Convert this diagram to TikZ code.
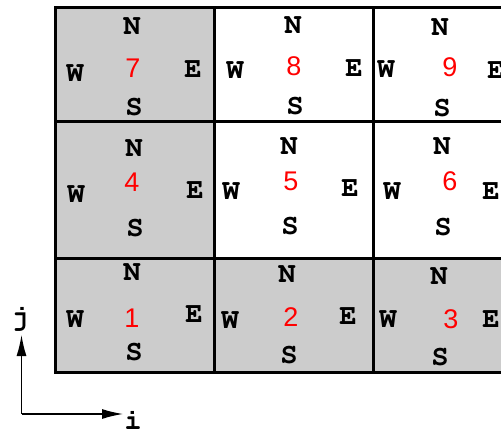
\documentclass[tikz,border=0pt]{standalone}
\usepackage{fontspec}
\newfontfamily\numfont{Liberation Sans}
\newcommand\courb{\fontencoding{T1}\fontfamily{pcr}\fontseries{b}\fontshape{n}\selectfont}
\usetikzlibrary{arrows.meta}
\definecolor{cellgray}{HTML}{CCCCCC}
\definecolor{numred}{HTML}{FF0000}
\tikzset{
  cellbox/.style={inner sep=0pt, outer sep=0pt, minimum width=159pt},
  shaded/.style={fill=cellgray},
  plain/.style={fill=white},
  gridline/.style={line width=3pt, line join=miter},
  lbl/.style={inner sep=0pt, font=\fontsize{29}{29}\courb},
  num/.style={inner sep=0pt, text=numred, font=\fontsize{27}{27}\selectfont\numfont},
  axis/.style={line width=1.3pt, -{Latex[length=21pt,width=10pt]}}
}
\begin{document}
\begin{tikzpicture}[x=1pt,y=-1pt]
\useasboundingbox (0,0) rectangle (501,433);
\clip (0,0) rectangle (501,433);
% cells
\node[cellbox, shaded, minimum height=114pt] (c7) at (134.5,65) {};
\node[cellbox, plain,  minimum height=114pt] (c8) at (293.5,65) {};
\node[cellbox, plain,  minimum height=114pt] (c9) at (452.5,65) {};
\node[cellbox, shaded, minimum height=136pt] (c4) at (134.5,190) {};
\node[cellbox, plain,  minimum height=136pt] (c5) at (293.5,190) {};
\node[cellbox, plain,  minimum height=136pt] (c6) at (452.5,190) {};
\node[cellbox, shaded, minimum height=114pt] (c1) at (134.5,315) {};
\node[cellbox, shaded, minimum height=114pt] (c2) at (293.5,315) {};
\node[cellbox, shaded, minimum height=114pt] (c3) at (452.5,315) {};
\foreach \c in {c7,c8,c9,c4,c5,c6,c1,c2,c3}
  \draw[gridline] (\c.north west) rectangle (\c.south east);
% cell 7
\node[lbl] (n7) at (132,27) {N};
\node[lbl] (w7) at (75,73) {W};
\node[num] (k7) at (133,68) {7};
\node[lbl] (e7) at (193,69) {E};
\node[lbl] (s7) at (134,107) {S};
% cell 8
\node[lbl] (n8) at (293,26) {N};
\node[lbl] (w8) at (235,70) {W};
\node[num] (k8) at (294,66) {8};
\node[lbl] (e8) at (354,68) {E};
\node[lbl] (s8) at (295,106) {S};
% cell 9
\node[lbl] (n9) at (440,28) {N};
\node[lbl] (w9) at (386,69) {W};
\node[num] (k9) at (450,67) {9};
\node[lbl] (e9) at (496,70) {E};
\node[lbl] (s9) at (442,108) {S};
% cell 4
\node[lbl] (n4) at (134,149) {N};
\node[lbl] (w4) at (76,194) {W};
\node[num] (k4) at (132,182) {4};
\node[lbl] (e4) at (195,190) {E};
\node[lbl] (s4) at (135,228) {S};
% cell 5
\node[lbl] (n5) at (289,147) {N};
\node[lbl] (w5) at (231,191) {W};
\node[num] (k5) at (291,181) {5};
\node[lbl] (e5) at (350,188) {E};
\node[lbl] (s5) at (290,226) {S};
% cell 6
\node[lbl] (n6) at (442,147) {N};
\node[lbl] (w6) at (392,191) {W};
\node[num] (k6) at (450,181) {6};
\node[lbl] (e6) at (491,191) {E};
\node[lbl] (s6) at (443,227) {S};
% cell 1
\node[lbl] (n1) at (132,273) {N};
\node[lbl] (w1) at (75,319) {W};
\node[num] (k1) at (132,318) {1};
\node[lbl] (e1) at (194,314) {E};
\node[lbl] (s1) at (134,352) {S};
% cell 2
\node[lbl] (n2) at (287,275) {N};
\node[lbl] (w2) at (230,320) {W};
\node[num] (k2) at (291,317) {2};
\node[lbl] (e2) at (348,316) {E};
\node[lbl] (s2) at (289,355) {S};
% cell 3
\node[lbl] (n3) at (439,277) {N};
\node[lbl] (w3) at (388,319) {W};
\node[num] (k3) at (451,319) {3};
\node[lbl] (e3) at (491,319) {E};
\node[lbl] (s3) at (440,357) {S};
% axes
\coordinate (o) at (21.5,414);
\coordinate (jtip) at (21.5,335);
\coordinate (itip) at (123,414);
\draw[axis] (o) -- (jtip);
\draw[axis] (o) -- (itip);
\node[lbl] (jl) at (20,318) {j};
\node[lbl] (il) at (133,420) {i};
\end{tikzpicture}
\end{document}
